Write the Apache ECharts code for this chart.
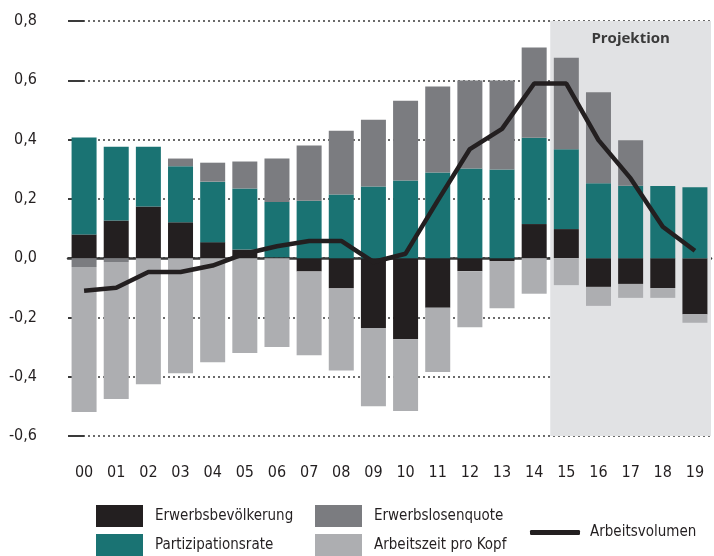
<!DOCTYPE html>
<html>
<head>
<meta charset="utf-8">
<script src="https://cdn.jsdelivr.net/npm/echarts@6/dist/echarts.min.js"></script>
<style>
  html, body { margin: 0; padding: 0; background: #fff; }
  #chart { width: 714px; height: 556px; }
</style>
</head>
<body>
<div id="chart"></div>
<script>
const years = ['00', '01', '02', '03', '04', '05', '06', '07', '08', '09',
  '10', '11', '12', '13', '14', '15', '16', '17', '18', '19']
const erwerbsbevoelkerung = [0.08, 0.127, 0.174, 0.121, 0.054, 0.029, 0.003, -0.045, -0.102, -0.236,
  -0.274, -0.167, -0.044, -0.01, 0.115, 0.098, -0.097, -0.087, -0.101, -0.189]
const partizipationsrate = [0.327, 0.249, 0.202, 0.189, 0.204, 0.206, 0.186, 0.194, 0.215, 0.242,
  0.262, 0.289, 0.302, 0.299, 0.291, 0.269, 0.253, 0.244, 0.243, 0.239]
const erwerbslosenquote = [-0.03, -0.013, 0, 0.026, 0.064, 0.091, 0.147, 0.186, 0.215, 0.225,
  0.269, 0.29, 0.297, 0.3, 0.305, 0.309, 0.307, 0.154, 0, 0]
const arbeitszeitProKopf = [-0.489, -0.462, -0.425, -0.388, -0.351, -0.32, -0.3, -0.283, -0.277, -0.264,
  -0.242, -0.217, -0.189, -0.159, -0.12, -0.091, -0.064, -0.047, -0.033, -0.029]
const arbeitsvolumen = [-0.11, -0.1, -0.047, -0.047, -0.025, 0.015, 0.04, 0.058, 0.058, -0.013,
  0.015, 0.194, 0.368, 0.436, 0.589, 0.589, 0.398, 0.269, 0.106, 0.025]
// projection starts with year 15
const projektionFrom = 14.5
const projektionTo = 19.5

const font = "'DejaVu Sans Condensed', 'Liberation Sans Narrow', 'Noto Sans', sans-serif"
const textColor = '#231f20'

const chart = echarts.init(document.getElementById('chart'))

const barSeries = (name, data, color) => ({
  name,
  type: 'bar',
  stack: 'total',
  barWidth: 25,
  data,
  itemStyle: { color }
})

const legendBase = {
  orient: 'vertical',
  padding: 0,
  itemWidth: 47,
  itemHeight: 22,
  itemGap: 7,
  icon: 'rect',
  textStyle: { fontFamily: font, fontSize: 15, color: textColor, padding: [0, 0, 0, 7] }
}

chart.setOption({
  animation: false,
  grid: { left: 68, right: 3, top: 21, bottom: 120 },
  legend: [
    Object.assign({}, legendBase, { left: 96, top: 505, height: 60, data: ['Erwerbsbevölkerung', 'Partizipationsrate'] }),
    Object.assign({}, legendBase, { left: 315, top: 505, height: 60, data: ['Erwerbslosenquote', 'Arbeitszeit pro Kopf'] }),
    Object.assign({}, legendBase, {
      left: 530, top: 525, itemWidth: 50, itemHeight: 5,
      textStyle: { fontFamily: font, fontSize: 15, color: textColor, padding: [0, 0, 0, 5] },
      data: [{ name: 'Arbeitsvolumen', icon: 'roundRect' }]
    })
  ],
  xAxis: [
    {
      type: 'category',
      data: years,
      axisLine: { lineStyle: { color: '#3a3a3a', width: 2.5 } },
      axisTick: { length: 16, lineStyle: { color: '#3a3a3a', width: 1.5 } },
      axisLabel: { margin: 29, fontFamily: font, fontSize: 16, color: textColor }
    },
    { type: 'value', min: -0.5, max: 19.5, show: false }
  ],
  yAxis: {
    type: 'value',
    min: -0.6,
    max: 0.8,
    interval: 0.2,
    axisLine: { show: false },
    axisTick: { show: true, length: 16, lineStyle: { color: '#3a3a3a', width: 2 } },
    axisLabel: {
      margin: 31,
      fontFamily: font,
      fontSize: 16,
      color: textColor,
      formatter: v => v.toFixed(1).replace('.', ',')
    },
    splitLine: { lineStyle: { color: '#3a3a3a', width: 1.5, type: [2, 3] } }
  },
  series: [
    {
      type: 'line',
      xAxisIndex: 1,
      z: -1,
      silent: true,
      data: [],
      markArea: {
        silent: true,
        itemStyle: { color: '#e1e2e4' },
        label: {
          show: true,
          position: 'insideTop',
          distance: 10,
          fontFamily: "'Open Sans', 'Noto Sans', sans-serif",
          fontWeight: 'bold',
          fontSize: 15,
          color: '#3a3a3a'
        },
        data: [[
          { name: 'Projektion', xAxis: projektionFrom, yAxis: 0.8 },
          { xAxis: projektionTo, yAxis: -0.6 }
        ]]
      }
    },
    barSeries('Erwerbsbevölkerung', erwerbsbevoelkerung, '#231f20'),
    barSeries('Partizipationsrate', partizipationsrate, '#1a7373'),
    barSeries('Erwerbslosenquote', erwerbslosenquote, '#7b7c80'),
    barSeries('Arbeitszeit pro Kopf', arbeitszeitProKopf, '#adaeb1'),
    {
      name: 'Arbeitsvolumen',
      type: 'line',
      data: arbeitsvolumen,
      symbol: 'none',
      z: 5,
      lineStyle: { color: '#231f20', width: 4.5 },
      itemStyle: { color: '#231f20' }
    }
  ]
})
</script>
</body>
</html>
